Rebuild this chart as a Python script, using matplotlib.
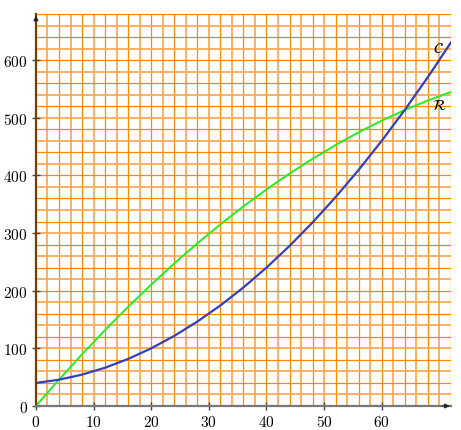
import matplotlib
matplotlib.use("Agg")
import matplotlib.pyplot as plt
import matplotlib.ticker as mticker
import numpy as np

plt.rcParams['font.family'] = ['DejaVu Serif']
plt.rcParams['mathtext.fontset'] = 'cm'

# values, every 4 units
x_vals = [0, 4, 8, 12, 16, 20, 24, 28, 32, 36, 40, 44, 48, 52, 56, 60, 64, 68, 72]
cost = [40, 45.6, 54.4, 66.4, 81.6, 100, 121.6, 146.4, 174.4, 205.6, 240,
        277.6, 318.4, 362.4, 409.6, 460, 513.6, 570.4, 630.4]
revenue = [0, 45.8, 89.7, 131.8, 172.1, 210.6, 247.3, 282.1, 315.1, 346.3, 375.6,
           403.2, 428.8, 452.7, 474.8, 495, 513.4, 529.9, 544.7]

x_ticks = [0, 10, 20, 30, 40, 50, 60]
y_ticks = [0, 100, 200, 300, 400, 500, 600]
x_max, y_max = 72, 680

fig = plt.figure(figsize=(4.61, 4.31), dpi=100)
ax = fig.add_axes([0.078, 0.0557, 0.9, 0.9095])
ax.set_xlim(0, x_max)
ax.set_ylim(0, y_max)

# orange grid paper
for i, gx in enumerate(np.arange(2, x_max + 1, 2)):
    ax.axvline(gx, color='#ff8800' if i % 2 else '#ffaa55', lw=0.9 if i % 2 else 1.3, zorder=1)
for i, gy in enumerate(np.arange(20, y_max + 1, 20)):
    ax.axhline(gy, color='#ff8800' if i % 2 else '#ffaa55', lw=0.9 if i % 2 else 1.3, zorder=1)

ax.plot(x_vals, revenue, color='#22ee22', lw=1.4, zorder=3)
ax.plot(x_vals, cost, color='#3340bb', lw=1.6, zorder=3)

ax.text(69.9, 621, r'$\mathcal{C}$', fontsize=11, ha='center', va='center',
        math_fontfamily='stix', zorder=4)
ax.text(70.0, 522, r'$\mathcal{R}$', fontsize=11, ha='center', va='center',
        math_fontfamily='stix', zorder=4)

for s in ['top', 'right']:
    ax.spines[s].set_visible(False)
ax.spines['left'].set_color('#7a3d00')
ax.spines['left'].set_linewidth(1.6)
ax.spines['bottom'].set_color('#777777')
ax.spines['bottom'].set_linewidth(1.6)
ax.spines['left'].set_zorder(5)
ax.spines['bottom'].set_zorder(5)

ax.annotate('', xy=(0, y_max + 2), xytext=(0, y_max - 15),
            arrowprops=dict(arrowstyle='-|>', color='#222222', lw=0.8, mutation_scale=7),
            annotation_clip=False, zorder=6)
ax.annotate('', xy=(x_max + 0.3, 0), xytext=(x_max - 2, 0),
            arrowprops=dict(arrowstyle='-|>', color='#222222', lw=0.8, mutation_scale=7),
            annotation_clip=False, zorder=6)

ax.set_xticks(x_ticks)
ax.set_yticks(y_ticks)
fmt = mticker.FuncFormatter(lambda v, p: r'$%d$' % v)
ax.xaxis.set_major_formatter(fmt)
ax.yaxis.set_major_formatter(fmt)
ax.tick_params(direction='inout', length=6, width=1, color='#444444', labelsize=11, pad=3)

fig.savefig('out.png', dpi=100)
